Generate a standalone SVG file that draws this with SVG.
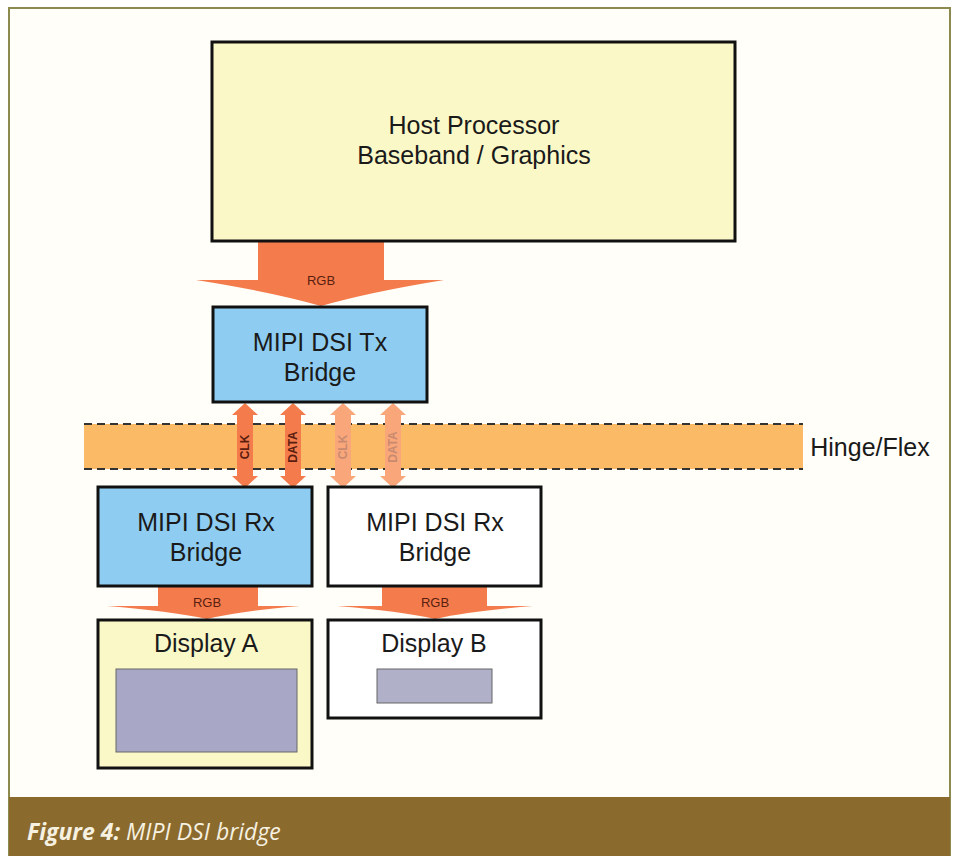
<svg xmlns="http://www.w3.org/2000/svg" width="960" height="856" viewBox="0 0 960 856">
<style>
.box{stroke:#111;stroke-width:3}
.t{font-family:"Liberation Sans",Arial,sans-serif;font-size:25px;fill:#1a1a1a;text-anchor:middle}
.lbl{font-family:"Liberation Sans",Arial,sans-serif;font-size:13px;fill:#5a1e10;text-anchor:middle}
.vl{font-family:"Liberation Sans",Arial,sans-serif;font-size:12px;font-weight:bold;text-anchor:middle}
.arr{fill:#f47b4c}
.arrf{fill:#f9a77a}
</style>
<rect width="960" height="856" fill="#fff"/>
<rect x="9" y="8" width="941" height="848" fill="#fffef9" stroke="#8c8a4e" stroke-width="2"/>
<rect x="9" y="797" width="941" height="59" fill="#8b6a2e"/>
<text x="27" y="840" font-family="'Open Sans','DejaVu Sans',sans-serif" font-size="23" font-style="italic" fill="#f6f1e0"><tspan font-weight="bold">Figure 4:</tspan> MIPI DSI bridge</text>

<g id="hinge">
<rect x="84" y="424" width="719" height="45" fill="#fbbb66"/>
<line x1="84" y1="424" x2="803" y2="424" stroke="#333" stroke-width="2" stroke-dasharray="8,5"/>
<line x1="84" y1="469" x2="803" y2="469" stroke="#333" stroke-width="2" stroke-dasharray="8,5"/>
<text x="870" y="456" class="t">Hinge/Flex</text>
</g>

<g id="connectors">
<path class="arr" d="M258,242 H384 V280 H444 Q370,292 321,306 Q272,292 196,280 H258 Z"/>
<text x="321" y="285" class="lbl">RGB</text>
<path class="arr" d="M158,587 H258 V606 H300 Q240,611 207,619 Q170,611 107,606 H158 Z"/>
<text x="207" y="607" class="lbl">RGB</text>
<path class="arr" d="M382,587 H487 V606 H533 Q470,611 435,619 Q400,611 337,606 H382 Z"/>
<text x="435" y="607" class="lbl">RGB</text>
<g>
<path class="arr" d="M245,403 L258,415 H253 V476 H258 L245,488 L232,476 H237 V415 H232 Z"/>
<text transform="translate(249,447) rotate(-90)" class="vl" fill="#5a1e10">CLK</text>
<path class="arr" d="M293,403 L306,415 H301 V476 H306 L293,488 L280,476 H285 V415 H280 Z"/>
<text transform="translate(297,447) rotate(-90)" class="vl" fill="#5a1e10">DATA</text>
<path class="arrf" d="M343,403 L356,415 H351 V476 H356 L343,488 L330,476 H335 V415 H330 Z"/>
<text transform="translate(347,447) rotate(-90)" class="vl" fill="#c98a70">CLK</text>
<path class="arrf" d="M393,403 L406,415 H401 V476 H406 L393,488 L380,476 H385 V415 H380 Z"/>
<text transform="translate(397,447) rotate(-90)" class="vl" fill="#c98a70">DATA</text>
</g>
</g>

<g id="host">
<rect class="box" x="212" y="42" width="523" height="199" fill="#fbf8c8"/>
<text x="474" y="134" class="t">Host Processor</text>
<text x="474" y="164" class="t">Baseband / Graphics</text>
</g>
<g id="tx">
<rect class="box" x="213" y="307" width="214" height="95" fill="#8ecdf1"/>
<text x="320" y="351" class="t">MIPI DSI Tx</text>
<text x="320" y="381" class="t">Bridge</text>
</g>
<g id="rxA">
<rect class="box" x="98" y="487" width="214" height="99" fill="#8ecdf1"/>
<text x="206" y="531" class="t">MIPI DSI Rx</text>
<text x="206" y="561" class="t">Bridge</text>
</g>
<g id="rxB">
<rect class="box" x="328" y="487" width="213" height="99" fill="#ffffff"/>
<text x="435" y="531" class="t">MIPI DSI Rx</text>
<text x="435" y="561" class="t">Bridge</text>
</g>
<g id="dispA">
<rect class="box" x="98" y="620" width="214" height="148" fill="#fbf8c8"/>
<text x="206" y="652" class="t">Display A</text>
<rect x="116" y="669" width="181" height="83" fill="#a8a8c6" stroke="#666" stroke-width="1"/>
</g>
<g id="dispB">
<rect class="box" x="328" y="620" width="213" height="98" fill="#ffffff"/>
<text x="434" y="652" class="t">Display B</text>
<rect x="377" y="669" width="115" height="34" fill="#b0b0c8" stroke="#666" stroke-width="1"/>
</g>
</svg>
